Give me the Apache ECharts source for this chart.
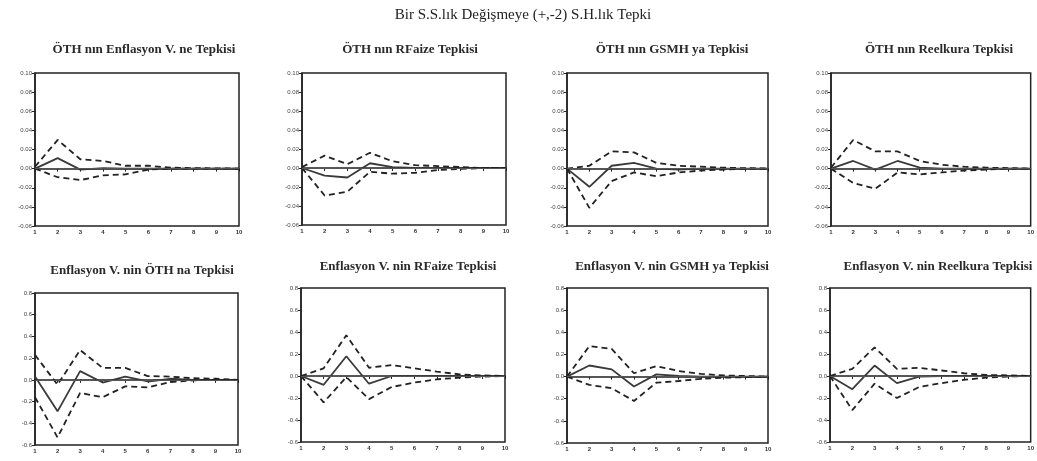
<!DOCTYPE html>
<html>
<head>
<meta charset="utf-8">
<script src="https://cdn.jsdelivr.net/npm/echarts@6/dist/echarts.min.js"></script>
<style>
  html, body { margin: 0; padding: 0; background: #fff; }
  #chart { width: 1037px; height: 461px; }
</style>
</head>
<body>
<div id="chart"></div>
<script>
const periods = ['1', '2', '3', '4', '5', '6', '7', '8', '9', '10'];
const mainTitle = 'Bir S.S.lık Değişmeye (+,-2) S.H.lık Tepki';
const panelTitles = [
  'ÖTH nın Enflasyon V. ne Tepkisi',
  'ÖTH nın RFaize Tepkisi',
  'ÖTH nın GSMH ya Tepkisi',
  'ÖTH nın Reelkura Tepkisi',
  'Enflasyon V. nin ÖTH na Tepkisi',
  'Enflasyon V. nin RFaize Tepkisi',
  'Enflasyon V. nin GSMH ya Tepkisi',
  'Enflasyon V. nin Reelkura Tepkisi'
];

// response (solid), upper and lower bands (dashed)
const resp1 = [0, 0.011, -0.001, 0.0005, 0, 0, 0, 0, 0, 0];
const upper1 = [0.002, 0.030, 0.0098, 0.008, 0.003, 0.003, 0.001, 0.0005, 0.0003, 0];
const lower1 = [0, -0.009, -0.012, -0.007, -0.006, -0.001, 0, 0, 0, 0];

const resp2 = [0, -0.008, -0.010, 0.005, 0.001, 0, 0, 0, 0, 0];
const upper2 = [0.001, 0.013, 0.004, 0.016, 0.007, 0.003, 0.002, 0.001, 0, 0];
const lower2 = [0, -0.029, -0.025, -0.004, -0.006, -0.005, -0.002, -0.001, 0, 0];

const resp3 = [0, -0.019, 0.003, 0.006, 0, -0.001, 0, 0, 0, 0];
const upper3 = [0, 0.003, 0.018, 0.017, 0.006, 0.003, 0.002, 0.001, 0.0005, 0];
const lower3 = [0, -0.041, -0.013, -0.004, -0.008, -0.004, -0.002, -0.001, 0, 0];

const resp4 = [0, 0.008, -0.001, 0.008, 0.001, 0, 0, 0, 0, 0];
const upper4 = [0.001, 0.030, 0.018, 0.018, 0.008, 0.004, 0.002, 0.001, 0.0005, 0];
const lower4 = [0, -0.015, -0.021, -0.004, -0.006, -0.004, -0.002, -0.001, 0, 0];

const resp5 = [0.03, -0.29, 0.08, -0.025, 0.03, -0.015, 0.01, 0, 0, 0];
const upper5 = [0.23, -0.045, 0.275, 0.11, 0.11, 0.035, 0.03, 0.015, 0.01, 0];
const lower5 = [-0.16, -0.53, -0.12, -0.16, -0.06, -0.07, -0.02, -0.005, 0, 0];

const resp6 = [0, -0.08, 0.18, -0.07, 0, 0, 0, 0, 0, 0];
const upper6 = [0, 0.07, 0.37, 0.075, 0.10, 0.07, 0.04, 0.015, 0.005, 0];
const lower6 = [0, -0.24, -0.01, -0.21, -0.10, -0.06, -0.03, -0.015, -0.005, 0];

const resp7 = [0, 0.10, 0.065, -0.09, 0.02, 0.005, 0, 0, 0, 0];
const upper7 = [0, 0.275, 0.25, 0.03, 0.095, 0.05, 0.025, 0.01, 0.005, 0];
const lower7 = [0, -0.075, -0.105, -0.22, -0.055, -0.04, -0.02, -0.01, -0.005, 0];

const resp8 = [0, -0.12, 0.095, -0.065, -0.005, 0, 0, 0, 0, 0];
const upper8 = [0, 0.065, 0.26, 0.065, 0.075, 0.05, 0.025, 0.01, 0.005, 0];
const lower8 = [0, -0.31, -0.07, -0.20, -0.10, -0.065, -0.035, -0.015, -0.005, 0];

const responses = [resp1, resp2, resp3, resp4, resp5, resp6, resp7, resp8];
const uppers = [upper1, upper2, upper3, upper4, upper5, upper6, upper7, upper8];
const lowers = [lower1, lower2, lower3, lower4, lower5, lower6, lower7, lower8];

// panel boxes in pixels: left, top, width, height, title center x, title y
const boxes = [
  [35, 73, 204, 153, 139, 38],
  [302, 73, 204, 152, 405, 38],
  [567, 73, 201, 153, 667, 38],
  [831, 73, 204, 153, 934, 38],
  [35, 293, 203, 152, 137, 259],
  [301, 288, 204, 154, 403, 255],
  [567, 288, 201, 155, 667, 255],
  [830, 288, 205, 154, 933, 255]
];

const serif = '"Liberation Serif", "DejaVu Serif", serif';
const chart = echarts.init(document.getElementById('chart'));

const titles = [{
  text: mainTitle, left: 518, top: 3, textAlign: 'center',
  textStyle: { fontFamily: serif, fontSize: 15, fontWeight: 'normal', color: '#222' }
}];
const grids = [], xAxes = [], yAxes = [], series = [];

boxes.forEach((b, i) => {
  const top = i < 4;
  titles.push({
    text: panelTitles[i], left: b[4], top: b[5], textAlign: 'center',
    textStyle: { fontFamily: serif, fontSize: 13, fontWeight: 'bold', color: '#2a2a2a' }
  });
  grids.push({
    left: b[0], top: b[1], width: b[2], height: b[3],
    show: true, borderColor: '#222', borderWidth: 1.5, backgroundColor: '#fff'
  });
  xAxes.push({
    gridIndex: i, type: 'category', data: periods, boundaryGap: false,
    axisLine: { lineStyle: { color: '#222', width: 1.5 } },
    axisTick: { show: true, length: 3, lineStyle: { color: '#222' } },
    axisLabel: { fontSize: 6, margin: 3, color: '#333', fontWeight: 'bold', interval: 0 },
    splitLine: { show: false }
  });
  yAxes.push({
    gridIndex: i, type: 'value',
    min: top ? -0.06 : -0.6, max: top ? 0.10 : 0.8, interval: top ? 0.02 : 0.2,
    axisLine: { show: true, lineStyle: { color: '#222', width: 1.5 } },
    axisTick: { show: true, length: 3, lineStyle: { color: '#222' } },
    axisLabel: {
      fontSize: 6, margin: 3, color: '#444',
      formatter: v => v.toFixed(top ? 2 : 1)
    },
    splitLine: { show: false }
  });
  series.push({
    type: 'line', xAxisIndex: i, yAxisIndex: i, data: responses[i],
    symbol: 'none', silent: true,
    lineStyle: { color: '#3a3a3a', width: 1.8 },
    markLine: {
      silent: true, symbol: 'none', label: { show: false },
      lineStyle: { color: '#555', width: 1, type: 'solid' },
      data: [{ yAxis: 0 }]
    }
  });
  [uppers[i], lowers[i]].forEach(d => {
    series.push({
      type: 'line', xAxisIndex: i, yAxisIndex: i, data: d,
      symbol: 'none', silent: true,
      lineStyle: { color: '#222', width: 1.8, type: [6, 4] }
    });
  });
});

chart.setOption({
  animation: false,
  title: titles,
  grid: grids,
  xAxis: xAxes,
  yAxis: yAxes,
  series: series
});
</script>
</body>
</html>
